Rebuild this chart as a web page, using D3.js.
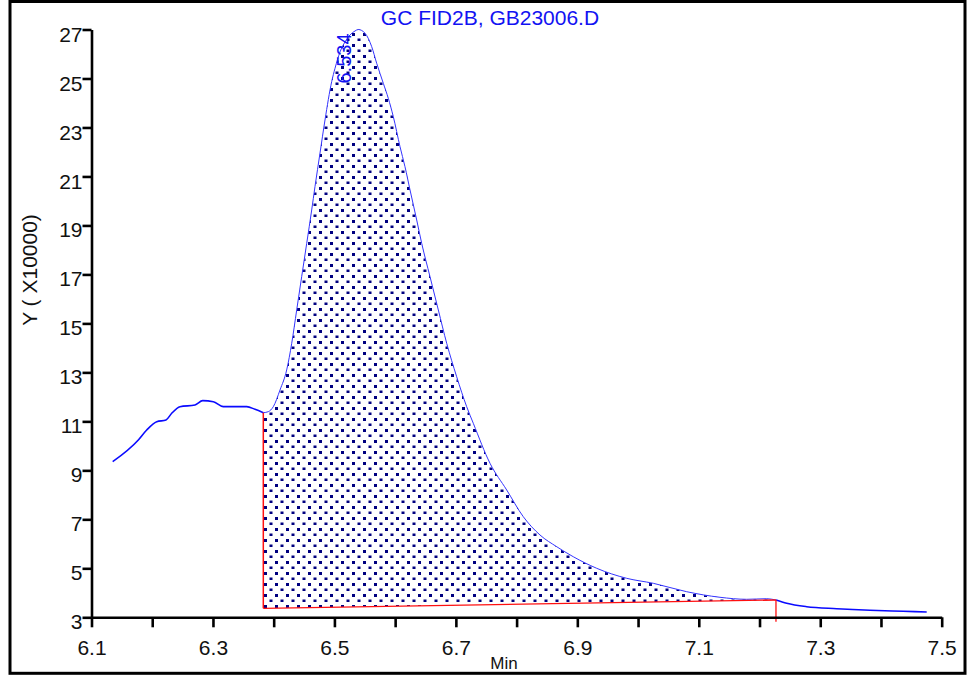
<!DOCTYPE html>
<html>
<head>
<meta charset="utf-8">
<script src="https://cdn.jsdelivr.net/npm/d3@7"></script>
<style>
  html, body { margin: 0; padding: 0; background: #fff; }
  svg { display: block; font-family: "Liberation Sans", Arial, sans-serif; }
</style>
</head>
<body>
<svg id="chart" width="972" height="677"></svg>
<script>
// Chromatogram trace: retention time (min) and detector response (x10000)
const retentionTimes = [
  6.1349, 6.1771, 6.1909, 6.2074, 6.2227, 6.2321, 6.2457, 6.2704, 6.2831, 6.3006,
  6.3170, 6.3556, 6.3692, 6.3829, 6.3911, 6.3994, 6.4104, 6.4214, 6.4297, 6.4379,
  6.4461, 6.4544, 6.4626, 6.4680, 6.4763, 6.4845, 6.4955, 6.5010, 6.5092, 6.5174,
  6.5257, 6.5339, 6.5393, 6.5504, 6.5614, 6.5696, 6.5805, 6.5887, 6.5970, 6.6080,
  6.6162, 6.6245, 6.6355, 6.6437, 6.6574, 6.6711, 6.6849, 6.7013, 6.7178, 6.7287,
  6.7562, 6.7837, 6.8110, 6.8385, 6.8660, 6.8933, 6.9319, 6.9813, 7.0251, 7.0801,
  7.1349, 7.1789, 7.2118, 7.2271, 7.2447, 7.2777, 7.3271, 7.3819, 7.4367, 7.4753
];
const response = [
  9.354, 10.240, 10.648, 10.987, 11.056, 11.330, 11.600, 11.669, 11.845, 11.804,
  11.600, 11.600, 11.493, 11.354, 11.395, 11.600, 12.281, 13.098, 14.188, 15.548,
  16.908, 18.272, 19.631, 20.583, 21.959, 23.306, 24.870, 25.417, 26.083, 26.491,
  26.777, 26.940, 27.000, 26.847, 26.299, 25.621, 24.805, 24.192, 23.441, 22.216,
  21.399, 20.448, 19.223, 18.272, 16.908, 15.548, 14.188, 12.824, 11.600, 10.921,
  9.288, 8.198, 7.108, 6.361, 5.883, 5.474, 5.001, 4.592, 4.388, 4.045,
  3.817, 3.735, 3.759, 3.706, 3.572, 3.433, 3.351, 3.286, 3.245, 3.216
];

// Integration baseline (start / end) for the peak
const baselineTimes = [6.3829, 7.2271];
const baselineValues = [3.368, 3.706];
const peakLabel = "6.534";
const peakApex = [6.5393, 27.0];
const endMarkerBottom = 2.82;

// Axis ticks and labels
const xTicks = d3.range(15).map(i => +(6.1 + i * 0.1).toFixed(1));
const xLabelTicks = [6.1, 6.3, 6.5, 6.7, 6.9, 7.1, 7.3, 7.5];
const yTicks = [3, 5, 7, 9, 11, 13, 15, 17, 19, 21, 23, 25, 27];

const title = "GC FID2B, GB23006.D";
const yTitle = "Y ( X10000)";
const xTitle = "Min";

const svg = d3.select("#chart");
const x = d3.scaleLinear().domain([6.1, 7.5]).range([91.5, 941.7]);
const y = d3.scaleLinear().domain([3, 27]).range([617.3, 29.5]);

const points = retentionTimes.map((t, i) => ({ t, v: response[i] }));
const baseAt = t => baselineValues[0] + (t - baselineTimes[0]) *
  (baselineValues[1] - baselineValues[0]) / (baselineTimes[1] - baselineTimes[0]);

// Dotted fill pattern for the integrated area
const defs = svg.append("defs");
const pat = defs.append("pattern")
  .attr("id", "dots").attr("patternUnits", "userSpaceOnUse")
  .attr("width", 11).attr("height", 11);
pat.append("rect").attr("x", 0).attr("y", 0).attr("width", 3).attr("height", 3).attr("fill", "#000080");
pat.append("rect").attr("x", 5.5).attr("y", 5.5).attr("width", 3).attr("height", 2.5).attr("fill", "#000080");

// Integrated peak area
const inPeak = points.filter(p => p.t >= baselineTimes[0] - 1e-9 && p.t <= baselineTimes[1] + 1e-9);
const area = d3.area()
  .x(d => x(d.t))
  .y0(d => y(baseAt(d.t)))
  .y1(d => y(d.v))
  .curve(d3.curveMonotoneX);
svg.append("path").datum(inPeak)
  .attr("d", area)
  .attr("fill", "url(#dots)");

// Trace: thin over the integrated area, heavier outside it
const line = d3.line().x(d => x(d.t)).y(d => y(d.v)).curve(d3.curveMonotoneX);
svg.append("path").datum(inPeak)
  .attr("d", line)
  .attr("fill", "none").attr("stroke", "#3434ff").attr("stroke-width", 1);
const before = points.filter(p => p.t <= baselineTimes[0] + 1e-9);
const after = points.filter(p => p.t >= baselineTimes[1] - 1e-9);
[before, after].forEach(seg => {
  svg.append("path").datum(seg)
    .attr("d", line)
    .attr("fill", "none").attr("stroke", "#0a0aff").attr("stroke-width", 1.6);
});

// Baseline and peak start / end markers
const startVal = response[retentionTimes.indexOf(baselineTimes[0])];
svg.append("line")
  .attr("x1", x(baselineTimes[0])).attr("y1", y(baselineValues[0]))
  .attr("x2", x(baselineTimes[1])).attr("y2", y(baselineValues[1]))
  .attr("stroke", "#ff1010").attr("stroke-width", 1.3);
svg.append("line")
  .attr("x1", x(baselineTimes[0])).attr("y1", y(startVal))
  .attr("x2", x(baselineTimes[0])).attr("y2", y(baselineValues[0]))
  .attr("stroke", "#ff1010").attr("stroke-width", 1.5);
svg.append("line")
  .attr("x1", x(baselineTimes[1])).attr("y1", y(baselineValues[1]))
  .attr("x2", x(baselineTimes[1])).attr("y2", y(endMarkerBottom))
  .attr("stroke", "#ff1010").attr("stroke-width", 1.3);

// Axes
const xAxis = d3.axisBottom(x)
  .tickValues(xTicks)
  .tickSize(10).tickSizeOuter(0).tickPadding(13)
  .tickFormat(d => xLabelTicks.some(v => Math.abs(v - d) < 1e-6) ? d3.format(".1f")(d) : "");
const gx = svg.append("g").attr("transform", `translate(0,${y(3)})`).call(xAxis);

const yAxis = d3.axisLeft(y)
  .tickValues(yTicks)
  .tickSize(9).tickSizeOuter(0).tickPadding(0)
  .tickFormat(d3.format("d"));
const gy = svg.append("g").attr("transform", `translate(${x(6.1)},0)`).call(yAxis);

[gx, gy].forEach(g => {
  g.select(".domain").attr("stroke", "#000").attr("stroke-width", 2.6);
  g.selectAll(".tick line").attr("stroke", "#000").attr("stroke-width", 2.6);
  g.selectAll(".tick text").attr("fill", "#111").attr("font-size", 21)
    .attr("font-family", "'Liberation Sans', Arial, sans-serif");
});
gy.selectAll(".tick text").attr("dy", "0.55em");

// Titles
svg.append("text")
  .attr("x", 490).attr("y", 25)
  .attr("text-anchor", "middle")
  .attr("font-size", 21).attr("fill", "#1212f2")
  .text(title);

svg.append("text")
  .attr("transform", "translate(37,270) rotate(-90)")
  .attr("text-anchor", "middle")
  .attr("font-size", 21).attr("fill", "#111")
  .text(yTitle);

svg.append("text")
  .attr("x", 504).attr("y", 669)
  .attr("text-anchor", "middle")
  .attr("font-size", 17).attr("fill", "#111")
  .text(xTitle);

// Peak retention-time label
svg.append("text")
  .attr("transform", `translate(${x(peakApex[0]) - 7},${y(peakApex[1]) + 54}) rotate(-90)`)
  .attr("text-anchor", "start")
  .attr("font-size", 20).attr("fill", "#1212f2")
  .text(peakLabel);

// Outer frame
svg.append("rect")
  .attr("x", 10).attr("y", 1.5).attr("width", 955).attr("height", 671.8)
  .attr("fill", "none").attr("stroke", "#000").attr("stroke-width", 3);
</script>
</body>
</html>
